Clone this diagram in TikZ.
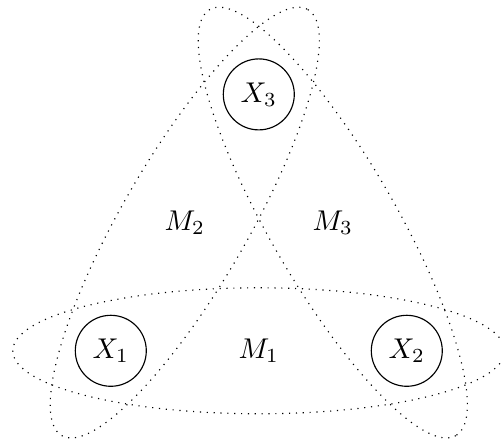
\documentclass[tikz,border=0pt]{standalone}
\usetikzlibrary{calc}
\begin{document}
\begin{tikzpicture}[x=0.35pt,y=-0.35pt,
  var/.style={draw,circle,thin,minimum size=24.85pt,inner sep=0pt},
  group/.style={draw,dotted,thin}]
\useasboundingbox (0,0) rectangle (501,444);
\node[var] (X1) at (110.8,350.8) {$X_1$};
\node[var] (X2) at (406.8,350.8) {$X_2$};
\node[var] (X3) at (258.8,94.4) {$X_3$};
\coordinate (C1) at ($(X1)!0.5!(X2)$);
\coordinate (C2) at ($(X1)!0.5!(X3)$);
\coordinate (C3) at ($(X2)!0.5!(X3)$);
\draw[group] (C1) ellipse [x radius=246, y radius=63];
\draw[group, rotate around={60:(C2)}] (C2) ellipse [x radius=246, y radius=63];
\draw[group, rotate around={-60:(C3)}] (C3) ellipse [x radius=246, y radius=63];
\node (M1) at (C1) {$M_1$};
\node (M2) at (C2) {$M_2$};
\node (M3) at (C3) {$M_3$};
\end{tikzpicture}
\end{document}
